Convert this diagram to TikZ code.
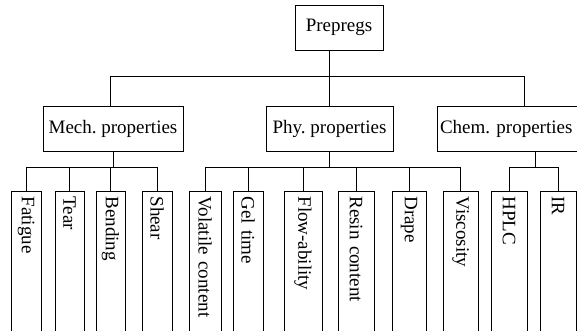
\documentclass[tikz,border=0pt]{standalone}
\usepackage{fontspec}
\setmainfont{Liberation Serif}
\frenchspacing
\begin{document}
\begin{tikzpicture}[x=1pt,y=-1pt,line width=0.9pt,
  lbl/.style={font=\fontsize{19}{22}\selectfont},
  box/.style={lbl,draw,minimum height=45pt,inner sep=0pt},
  leaf/.style={lbl,draw,rotate=-90,anchor=west,text width=150pt,align=left,inner xsep=5pt,inner ysep=0pt}]
\useasboundingbox (0,0) rectangle (577,331);
\clip (0,0) rectangle (577,331);
% top level
\node[box,minimum width=88pt] (pre) at (339,27.5) {Prepregs};
\node[box,minimum width=140pt] (mech) at (113,128.5) {Mech. properties};
\node[box,minimum width=127pt] (phy) at (329.5,128.5) {Phy. properties};
\node[box,minimum width=143pt,text width=137pt,align=left,inner xsep=3pt] (chem) at (508.5,128.5) {Chem. properties};
% leaves
\node[leaf,minimum height=30pt] (fat) at (26,191) {Fatigue};
\node[leaf,minimum height=29pt] (tear) at (69.5,191) {Tear};
\node[leaf,minimum height=29pt] (bend) at (110.5,191) {Bending};
\node[leaf,minimum height=30pt] (shear) at (157,191) {Shear};
\node[leaf,minimum height=32pt] (vol) at (205,191) {Volatile content};
\node[leaf,minimum height=30pt] (gel) at (248,191) {Gel time};
\node[leaf,minimum height=38pt] (flow) at (303,191) {Flow-ability};
\node[leaf,minimum height=36pt] (resin) at (356,191) {Resin content};
\node[leaf,minimum height=34pt] (drape) at (409,191) {Drape};
\node[leaf,minimum height=35pt] (visc) at (460.5,191) {Viscosity};
\node[leaf,minimum height=36pt] (hplc) at (509,191) {HPLC};
\node[leaf,minimum height=36pt] (ir) at (558,191) {IR};
% junction coordinates
\coordinate (jm) at (110,76);
\coordinate (jc) at (524,76);
\coordinate (b1) at (0,167);
\coordinate (cc) at (535,167);
% top connectors
\draw (pre.south -| phy.north) -- (phy.north);
\draw (jm |- mech.north) -- (jm) -- (jc) -- (jc |- chem.north);
% mech children
\draw (mech.south) -- (mech.south |- b1);
\draw (fat.west) -- (fat.west |- b1) -- (shear.west |- b1) -- (shear.west);
\draw (tear.west) -- (tear.west |- b1);
\draw (bend.west) -- (bend.west |- b1);
% phy children
\draw (phy.south) -- (phy.south |- b1);
\draw (vol.west) -- (vol.west |- b1) -- (visc.west |- b1) -- (visc.west);
\draw (gel.west) -- (gel.west |- b1);
\draw (flow.west) -- (flow.west |- b1);
\draw (resin.west) -- (resin.west |- b1);
\draw (drape.west) -- (drape.west |- b1);
% chem children
\draw (chem.south -| cc) -- (cc);
\draw (hplc.west) -- (hplc.west |- b1) -- (ir.west |- b1) -- (ir.west);
\end{tikzpicture}
\end{document}
